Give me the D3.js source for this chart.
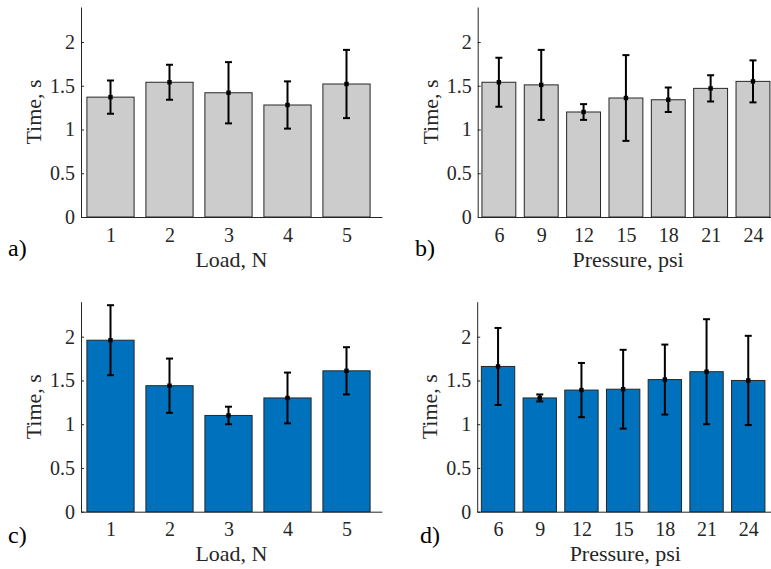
<!DOCTYPE html>
<html>
<head>
<meta charset="utf-8">
<script src="https://cdn.jsdelivr.net/npm/d3@7"></script>
<style>
  body { margin: 0; background: #fff; }
  svg { display: block; }
  text { font-family: "Liberation Serif", "Times New Roman", serif; fill: #262626; }
</style>
</head>
<body>
<svg width="771" height="569"></svg>
<script>
// sample data

var loadCats = [1, 2, 3, 4, 5];
var pressCats = [6, 9, 12, 15, 18, 21, 24];

var aMean = [1.37, 1.54, 1.42, 1.28, 1.52];
var aErr  = [0.19, 0.20, 0.35, 0.27, 0.39];

var bMean = [1.54, 1.51, 1.20, 1.36, 1.34, 1.47, 1.55];
var bErr  = [0.28, 0.40, 0.09, 0.49, 0.14, 0.15, 0.24];

var cMean = [1.96, 1.44, 1.10, 1.30, 1.61];
var cErr  = [0.40, 0.31, 0.10, 0.29, 0.27];

var dMean = [1.66, 1.30, 1.39, 1.40, 1.51, 1.60, 1.50];
var dErr  = [0.44, 0.04, 0.31, 0.45, 0.40, 0.60, 0.51];

var yTicks = [0, 0.5, 1, 1.5, 2];

var serif = 'Liberation Serif';

var svg = d3.select('svg');

// one panel = bars + error bars + axes
function drawPanel(p) {
    var x = d3.scaleLinear().domain([0.5, p.cats.length + 0.6]).range([p.left, p.left + p.unit * (p.cats.length + 0.1)]);
    var y = d3.scaleLinear().domain([0, 2.4]).range([p.bottom, p.bottom - 210]);
    var barW = p.unit * 0.8;

    var g = svg.append('g');

    var rows = p.cats.map(function(c, i) {
        return { cat: c, i: i + 1, mean: p.mean[i], err: p.err[i] };
    });

    g.selectAll('rect')
        .data(rows)
        .enter()
        .append('rect')
        .attr('x', function(d) { return x(d.i) - barW / 2; })
        .attr('y', function(d) { return y(d.mean); })
        .attr('width', barW)
        .attr('height', function(d) { return y(0) - y(d.mean); })
        .attr('fill', p.fill)
        .attr('stroke', '#262626')
        .attr('stroke-width', 1);

    // error bars
    var eb = g.selectAll('g.eb')
        .data(rows)
        .enter()
        .append('g')
        .attr('class', 'eb');

    eb.append('line')
        .attr('x1', function(d) { return x(d.i); })
        .attr('x2', function(d) { return x(d.i); })
        .attr('y1', function(d) { return y(d.mean - d.err); })
        .attr('y2', function(d) { return y(d.mean + d.err); })
        .attr('stroke', '#000').attr('stroke-width', 2);

    [-1, 1].forEach(function(s) {
        eb.append('line')
            .attr('x1', function(d) { return x(d.i) - 3.5; })
            .attr('x2', function(d) { return x(d.i) + 3.5; })
            .attr('y1', function(d) { return y(d.mean + s * d.err); })
            .attr('y2', function(d) { return y(d.mean + s * d.err); })
            .attr('stroke', '#000').attr('stroke-width', 2);
    });

    eb.append('rect')
        .attr('x', function(d) { return x(d.i) - 2.2; })
        .attr('y', function(d) { return y(d.mean) - 2.2; })
        .attr('width', 4.4).attr('height', 4.4)
        .attr('fill', '#000');

    // axes
    var yAxis = g.append('g')
        .attr('transform', 'translate(' + p.left + ',0)')
        .call(d3.axisLeft(y).tickValues(yTicks).tickSize(-3).tickSizeOuter(0).tickPadding(6)
            .tickFormat(function(d) { return d; }));

    var xAxis = g.append('g')
        .attr('transform', 'translate(0,' + p.bottom + ')')
        .call(d3.axisBottom(x).tickValues(rows.map(function(d) { return d.i; }))
            .tickSize(0).tickSizeOuter(0).tickPadding(10.5)
            .tickFormat(function(d) { return p.cats[d - 1]; }));

    [yAxis, xAxis].forEach(function(a) {
        a.attr('font-family', serif).attr('font-size', 20);
        a.selectAll('path, line').attr('stroke', '#262626');
        a.selectAll('text').attr('fill', '#262626');
    });

    g.append('text')
        .attr('x', (x.range()[0] + x.range()[1]) / 2)
        .attr('y', p.bottom + 49.5)
        .attr('text-anchor', 'middle')
        .attr('font-family', serif)
        .attr('font-size', 22)
        .text(p.xlabel);

    g.append('text')
        .attr('transform', 'translate(' + (p.left - 40) + ',' + (p.bottom - 105) + ') rotate(-90)')
        .attr('text-anchor', 'middle')
        .attr('font-family', serif)
        .attr('font-size', 22)
        .text('Time, s');

    g.append('text')
        .attr('x', p.tagX)
        .attr('y', p.tagY)
        .attr('font-family', serif)
        .attr('font-size', 24)
        .style('fill', '#000')
        .text(p.tag);
}

drawPanel({ cats: loadCats, mean: aMean, err: aErr, left: 81, bottom: 217, unit: 59.0,
    fill: '#cccccc', xlabel: 'Load, N', tag: 'a)', tagX: 8, tagY: 256 });
drawPanel({ cats: pressCats, mean: bMean, err: bErr, left: 477.7, bottom: 217, unit: 42.35,
    fill: '#cccccc', xlabel: 'Pressure, psi', tag: 'b)', tagX: 415, tagY: 256 });
drawPanel({ cats: loadCats, mean: cMean, err: cErr, left: 81, bottom: 511.7, unit: 59.0,
    fill: '#0072bd', xlabel: 'Load, N', tag: 'c)', tagX: 8, tagY: 543 });
drawPanel({ cats: pressCats, mean: dMean, err: dErr, left: 477.2, bottom: 511.7, unit: 41.7,
    fill: '#0072bd', xlabel: 'Pressure, psi', tag: 'd)', tagX: 420, tagY: 543 });
</script>
</body>
</html>
